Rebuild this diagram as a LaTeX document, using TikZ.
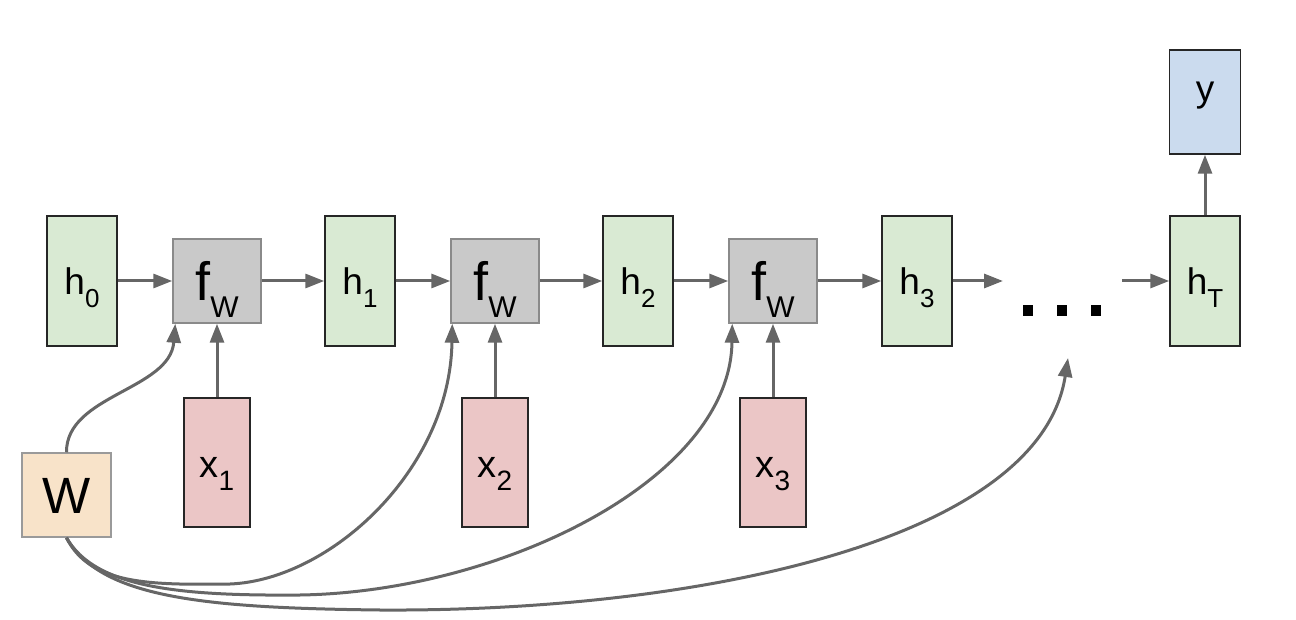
\documentclass[tikz,border=0pt]{standalone}
\usepackage{fontspec}
\setmainfont{Liberation Sans}
\usetikzlibrary{arrows.meta}
\definecolor{hgreen}{HTML}{D9EAD3}
\definecolor{fgray}{HTML}{C9C9C9}
\definecolor{fborder}{HTML}{8A8A8A}
\definecolor{xpink}{HTML}{EBC6C6}
\definecolor{yblue}{HTML}{CBDBEE}
\definecolor{worange}{HTML}{F8E3C9}
\definecolor{wborder}{HTML}{9A9A9A}
\definecolor{arrgray}{HTML}{666666}
\newcommand\sbs[3]{\smash{\raisebox{-#1}{\fontsize{#2}{#2}\selectfont #3}}}
\begin{document}
\begin{tikzpicture}[x=1pt,y=-1pt,
  hbox/.style={draw=black!85, line width=1.5pt, fill=hgreen, minimum width=70pt, minimum height=130pt, inner sep=0pt,
    font=\fontsize{37}{37}\selectfont, text height=28pt, text depth=0pt},
  fbox/.style={draw=fborder, line width=1.5pt, fill=fgray, minimum width=88pt, minimum height=84pt, inner sep=0pt,
    font=\fontsize{54}{54}\selectfont, text height=40pt, text depth=0pt},
  xbox/.style={draw=black!85, line width=1.5pt, fill=xpink, minimum width=66pt, minimum height=129pt, inner sep=0pt,
    font=\fontsize{38}{38}\selectfont, text height=29pt, text depth=0pt},
  ybox/.style={draw=black!85, line width=1.5pt, fill=yblue, minimum width=71pt, minimum height=104pt, inner sep=0pt,
    font=\fontsize{37}{37}\selectfont, text height=8pt, text depth=8pt},
  wbox/.style={draw=wborder, line width=1.5pt, fill=worange, minimum width=89pt, minimum height=84pt, inner sep=0pt,
    font=\fontsize{51}{51}\selectfont, text height=37pt, text depth=0pt},
  dotsq/.style={fill=black, minimum size=10.5pt, inner sep=0pt},
  arr/.style={draw=arrgray, line width=3pt, -{Triangle[length=19pt,width=14pt]}},
]
\useasboundingbox (0,0) rectangle (1296,620);
% hidden states
\node[hbox] (h0) at (82,281) {h\sbs{13pt}{26}{0}};
\node[hbox] (h1) at (360,281) {h\sbs{13pt}{26}{1}};
\node[hbox] (h2) at (638,281) {h\sbs{13pt}{26}{2}};
\node[hbox] (h3) at (917,281) {h\sbs{13pt}{26}{3}};
\node[hbox] (hT) at (1205,281) {h\sbs{13pt}{26}{T}};
% f_W
\node[fbox] (f1) at (217,281) {f\sbs{17pt}{30}{W}\hspace{16pt}};
\node[fbox] (f2) at (495,281) {f\sbs{17pt}{30}{W}\hspace{16pt}};
\node[fbox] (f3) at (773,281) {f\sbs{17pt}{30}{W}\hspace{16pt}};
% inputs
\node[xbox] (x1) at (217,462.5) {x\sbs{13pt}{28}{1}};
\node[xbox] (x2) at (495,462.5) {x\sbs{13pt}{28}{2}};
\node[xbox] (x3) at (773,462.5) {x\sbs{13pt}{28}{3}};
% output
\node[ybox] (y) at (1205,102) {y};
% W
\node[wbox] (W) at (66.5,495) {W\hspace{13pt}};
% dots
\node[dotsq] (d1) at (1028,310.5) {};
\node[dotsq] (d2) at (1062,310.5) {};
\node[dotsq] (d3) at (1096,310.5) {};
\coordinate (e1) at (1003,281);
\coordinate (s1) at (1122,281);
\coordinate (dtip) at (1068,358);
% horizontal chain
\draw[arr] (h0) -- (f1);
\draw[arr] (f1) -- (h1);
\draw[arr] (h1) -- (f2);
\draw[arr] (f2) -- (h2);
\draw[arr] (h2) -- (f3);
\draw[arr] (f3) -- (h3);
\draw[arr] (h3) -- (e1);
\draw[arr] (s1) -- (hT);
\draw[arr] (hT) -- (y);
% inputs
\draw[arr] (x1) -- (f1);
\draw[arr] (x2) -- (f2);
\draw[arr] (x3) -- (f3);
% W curves
\draw[arr] (W.north) .. controls (66,395) and (170,390) .. ([xshift=3pt]f1.south west);
\draw[arr] (W.south) .. controls (90,585) and (150,585) .. (230,584)
  .. controls (330,580) and (450,470) .. ([xshift=2pt]f2.south west);
\draw[arr] (W.south) .. controls (95,588) and (180,596) .. (300,595)
  .. controls (500,592) and (730,480) .. ([xshift=4pt]f3.south west);
\draw[arr] (W.south) .. controls (100,597) and (200,608) .. (380,610)
  .. controls (700,612) and (1040,540) .. (dtip);
\end{tikzpicture}
\end{document}
